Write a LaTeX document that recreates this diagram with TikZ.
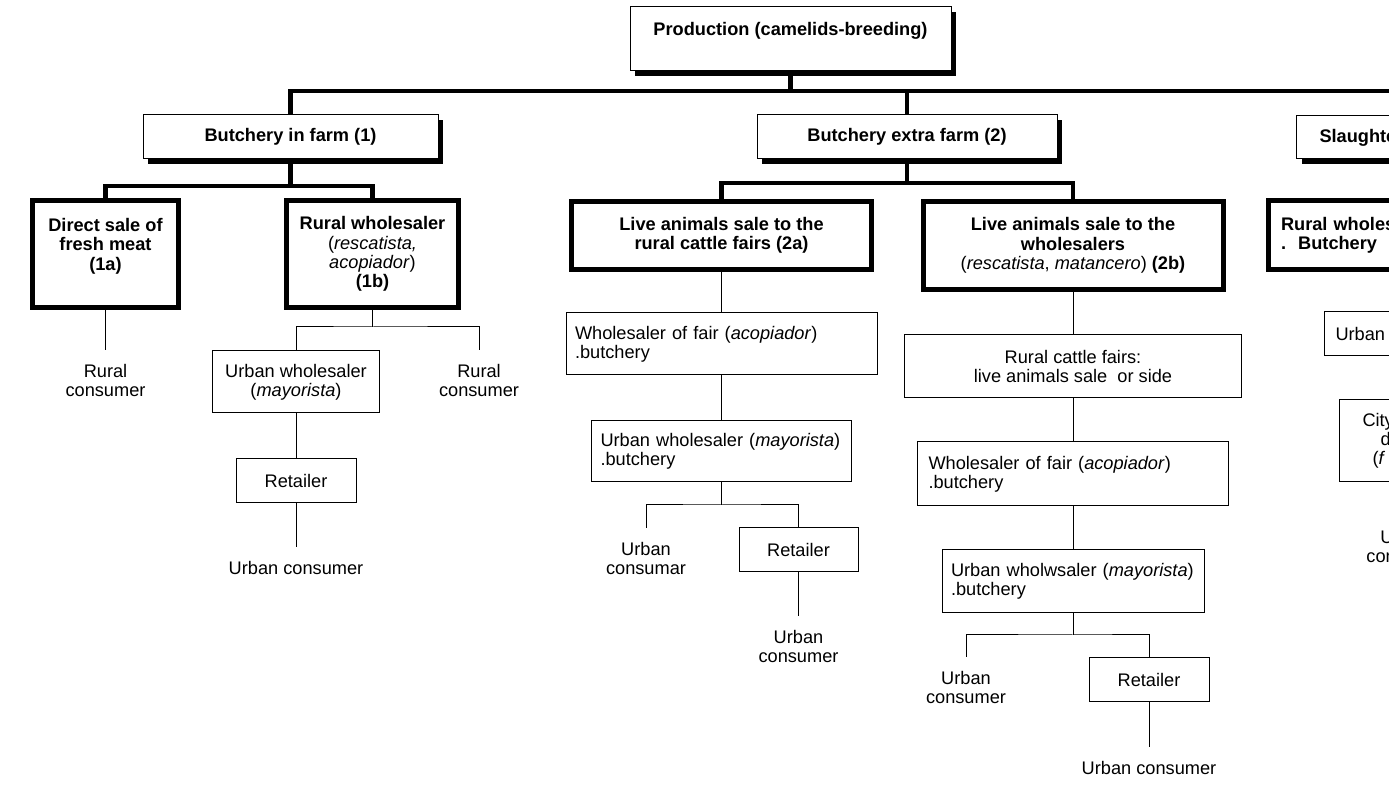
\documentclass[tikz,border=0pt]{standalone}
\usepackage{fontspec}
\setmainfont{Liberation Sans}
\usepackage{tikz}
\usetikzlibrary{shadows}

\newcommand{\chainfont}{\fontsize{9.1}{9.6}\selectfont}

\tikzset{
  levelbox/.style={draw, line width=0.5pt, fill=white, align=center,
    font=\chainfont\bfseries,
    drop shadow={shadow xshift=2.7pt, shadow yshift=-2.6pt, fill=black, opacity=1}},
  keybox/.style={draw, line width=2.5pt, fill=white, align=center, font=\chainfont},
  flowbox/.style={draw, line width=0.5pt, fill=white, align=center, font=\chainfont},
  textbox/.style={flowbox, align=left, inner xsep=4.5pt},
  endlabel/.style={align=center, font=\chainfont, inner ysep=7pt, anchor=north},
  bar/.style={line width=2.4pt},
  link/.style={line width=0.5pt}
}

\begin{document}
\begin{tikzpicture}[x=0.5pt, y=-0.5pt]

  \useasboundingbox (0,0) rectangle (1389,785);
  \clip (0,0) rectangle (1389,785);

  % Production
  \node[levelbox, minimum width=160.5pt, minimum height=32pt] (prod) at (790.5,39)
    {Production (camelids-breeding)\\\mbox{}};

  % Level 1
  \node[levelbox, minimum width=147.5pt, minimum height=22pt] (b1) at (290.5,137)
    {Butchery in farm (1)};
  \node[levelbox, minimum width=150pt, minimum height=22pt] (b2) at (907,137)
    {Butchery extra farm (2)};
  \node[levelbox, anchor=west, align=left, text width=80pt, inner xsep=11.5pt,
    minimum height=21.5pt] (b3) at (1296,137.5) {Slaughte};

  \coordinate (k0) at (790.5,91);
  \coordinate (kend) at (1400,91);
  \draw[bar] (prod.south) -- (k0);
  \draw[bar] (b1.north) |- (kend);
  \draw[bar] (b2.north) -- (b2.north |- k0);

  % Level 2
  \node[keybox, minimum width=73pt, minimum height=53.5pt] (d1a) at (105.5,254)
    {\textbf{Direct sale of}\\\textbf{fresh meat}\\\textbf{(1a)}\\\mbox{}};
  \node[keybox, minimum width=86pt, minimum height=53.5pt] (w1b) at (372.5,254)
    {\textbf{Rural wholesaler}\\(\textit{rescatista,}\\\textit{acopiador})\\\textbf{(1b)}};
  \node[keybox, minimum width=150pt, minimum height=34pt] (l2a) at (721.5,235.5)
    {\textbf{Live animals sale to the}\\\textbf{rural cattle fairs (2a)}};
  \node[keybox, minimum width=150pt, minimum height=44pt] (l2b) at (1073,245.5)
    {\textbf{Live animals sale to the}\\\textbf{wholesalers}\\(\textit{rescatista}, \textit{matancero}) \textbf{(2b)}};
  \node[keybox, anchor=west, align=left, text width=80pt, inner xsep=6.5pt,
    minimum height=34.5pt, font=\chainfont\bfseries] (r3) at (1265.5,235)
    {Rural wholes\\.\ \ Butchery};

  \coordinate (k1) at (290.5,186);
  \draw[bar] (b1.south) -- (k1);
  \draw[bar] (d1a.north) |- (k1) -| (w1b.north);
  \coordinate (k2) at (907,183);
  \draw[bar] (b2.south) -- (k2);
  \draw[bar] (l2a.north) |- (k2) -| (l2b.north);

  % Butchery in farm (1)
  \node[endlabel] (rc1) at (105.5,350) {Rural\\consumer};
  \draw[link] (d1a.south) -- (rc1.north);

  \node[flowbox, minimum width=83.75pt, minimum height=31pt] (uw1) at (296,382)
    {Urban wholesaler\\(\textit{mayorista})};
  \node[endlabel] (rc1b) at (479,350) {Rural\\consumer};
  \coordinate (k3) at (372.5,327);
  \draw[link] (w1b.south) -- (k3);
  \draw[link] (uw1.north) |- (k3) -| (rc1b.north);

  \node[flowbox, minimum width=60pt, minimum height=22pt] (ret1) at (296,481) {Retailer};
  \node[endlabel] (uc1) at (296,547) {Urban consumer};
  \draw[link] (uw1.south) -- (ret1.north);
  \draw[link] (ret1.south) -- (uc1.north);

  % Live animals to fairs (2a)
  \node[textbox, text width=146.5pt, minimum height=31pt] (wf2a) at (721.5,344)
    {Wholesaler of fair (\textit{acopiador})\\.butchery};
  \node[textbox, text width=121pt, minimum height=30.5pt] (uw2a) at (721.5,451.5)
    {Urban wholesaler (\textit{mayorista})\\.butchery};
  \draw[link] (l2a.south) -- (wf2a.north);
  \draw[link] (wf2a.south) -- (uw2a.north);

  \node[endlabel] (ucm) at (646,528) {Urban\\consumar};
  \node[flowbox, minimum width=59.5pt, minimum height=22pt] (ret2a) at (798.5,550) {Retailer};
  \coordinate (k4) at (721.5,505);
  \draw[link] (uw2a.south) -- (k4);
  \draw[link] (ucm.north) |- (k4) -| (ret2a.north);
  \node[endlabel] (uc2a) at (798.5,616) {Urban\\consumer};
  \draw[link] (ret2a.south) -- (uc2a.north);

  % Live animals to wholesalers (2b)
  \node[flowbox, minimum width=168.5pt, minimum height=31.5pt] (rcf) at (1073,366.5)
    {Rural cattle fairs:\\live animals sale\ \ or side};
  \node[textbox, text width=144.5pt, inner xsep=5.5pt, minimum height=32pt] (wf2b) at (1073,474)
    {Wholesaler of fair (\textit{acopiador})\\.butchery};
  \node[textbox, text width=122pt, minimum height=31.5pt] (uw2b) at (1073,581.5)
    {Urban wholwsaler (\textit{mayorista})\\.butchery};
  \draw[link] (l2b.south) -- (rcf.north);
  \draw[link] (rcf.south) -- (wf2b.north);
  \draw[link] (wf2b.south) -- (uw2b.north);

  \node[endlabel] (uc2b1) at (966,657) {Urban\\consumer};
  \node[flowbox, minimum width=60pt, minimum height=22pt] (ret2b) at (1149,680) {Retailer};
  \coordinate (k5) at (1073,635);
  \draw[link] (uw2b.south) -- (k5);
  \draw[link] (uc2b1.north) |- (k5) -| (ret2b.north);
  \node[endlabel] (uc2b2) at (1149,747) {Urban consumer};
  \draw[link] (ret2b.south) -- (uc2b2.north);

  % Slaughter column (cut at the edge)
  \node[flowbox, anchor=west, align=left, text width=60pt, inner xsep=5.5pt,
    minimum height=22pt] (uwr) at (1324,334) {Urban w};
  \node[flowbox, anchor=west, align=left, text width=60pt, inner xsep=11.5pt,
    minimum height=41pt] (city) at (1339,441) {City\\\hspace*{9pt}d\\\hspace*{5pt}(\textit{f}};
  \node[anchor=west, align=left, font=\chainfont, inner xsep=0pt] (ucr) at (1366,546.5)
    {\hspace*{7pt}U\\con};

\end{tikzpicture}
\end{document}
